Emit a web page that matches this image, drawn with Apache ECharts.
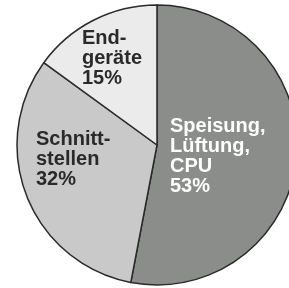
<!DOCTYPE html>
<html>
<head>
<meta charset="utf-8">
<script src="https://cdn.jsdelivr.net/npm/echarts@6/dist/echarts.min.js"></script>
<style>
  html, body { margin: 0; padding: 0; background: #fff; }
  #pieChart { width: 289px; height: 288px; }
</style>
</head>
<body>
<div id="pieChart"></div>
<script>
// Data
var names = ["Speisung, Lüftung, CPU", "Schnittstellen", "Endgeräte"];
var labelText = ["Speisung,\nLüftung,\nCPU", "Schnitt-\nstellen", "End-\ngeräte"];
var shares = [53, 32, 15];

// Styles
var sliceColors = ["#8a8d89", "#c9c9c9", "#ebebeb"];
var textColors = ["#ffffff", "#2a2a2a", "#2a2a2a"];
var labelPos = [[170, 116], [36, 129], [82, 28]];

var pieChart = echarts.init(document.getElementById("pieChart"));
var pieOption = {
  animation: false,
  series: [
    {
      type: "pie",
      center: [157, 145],
      radius: 140,
      startAngle: 90,
      clockwise: true,
      silent: true,
      itemStyle: {
        borderColor: "#2a2a2a",
        borderWidth: 1.5,
      },
      label: {
        show: true,
        position: "inside",
        fontFamily: "Liberation Sans, Arial, sans-serif",
        fontWeight: "bold",
        fontSize: 20,
        lineHeight: 20,
        align: "left",
        formatter: function (p) {
          return labelText[p.dataIndex] + "\n" + p.value + "%";
        },
      },
      labelLayout: function (p) {
        return {
          x: labelPos[p.dataIndex][0],
          y: labelPos[p.dataIndex][1],
          align: "left",
          verticalAlign: "top",
        };
      },
      data: names.map(function (n, i) {
        return {
          name: n,
          value: shares[i],
          itemStyle: { color: sliceColors[i] },
          label: { color: textColors[i] },
        };
      }),
    },
  ],
};
pieChart.setOption(pieOption);
</script>
</body>
</html>
